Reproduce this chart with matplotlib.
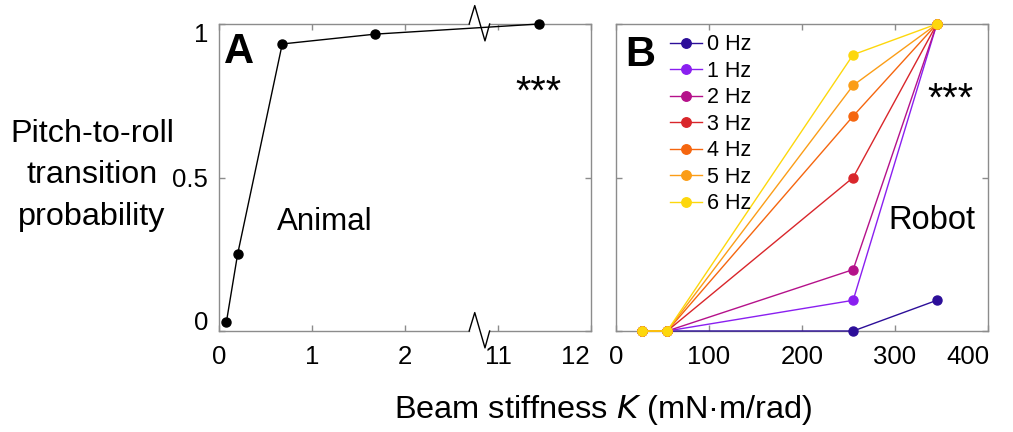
import numpy as np
import matplotlib
matplotlib.use("Agg")
import matplotlib.pyplot as plt
import matplotlib.transforms as mtransforms

plt.rcParams['font.family'] = ['Liberation Sans', 'DejaVu Sans']

# animal data (real stiffness values, axis is broken between 2 and 11)
k_animal = [0.08, 0.2, 0.68, 1.68, 11.44]
p_animal = [0.03, 0.25, 0.935, 0.967, 1.0]

# robot data
k_robot = [28, 55, 255, 345]
freqs = ['0 Hz', '1 Hz', '2 Hz', '3 Hz', '4 Hz', '5 Hz', '6 Hz']
p_robot = [
    [0, 0, 0.0, 0.1],
    [0, 0, 0.1, 1.0],
    [0, 0, 0.2, 1.0],
    [0, 0, 0.5, 1.0],
    [0, 0, 0.7, 1.0],
    [0, 0, 0.8, 1.0],
    [0, 0, 0.9, 1.0],
]
colors = ['#2c0e99', '#8a1ff0', '#b5118a', '#d9262b', '#f5660f', '#fb9d17', '#fdd70c']

xt_animal = [0, 1, 2, 11, 12]
xt_robot = [0, 100, 200, 300, 400]
yt = [0, 0.5, 1]


def squash(x):
    # map real K to broken axis position
    x = np.asarray(x, dtype=float)
    return np.where(x > 5, x - 8, x)


def nudge(lab, dx, dy):
    lab.set_transform(lab.get_transform() +
                      mtransforms.ScaledTranslation(dx/100, dy/100, fig.dpi_scale_trans))


fig = plt.figure(figsize=(10.13, 4.32), dpi=100)
axA = fig.add_axes([219/1013, 101/432, 372/1013, 307/432])
axB = fig.add_axes([616/1013, 101/432, 372/1013, 307/432])

spine_c = '#8c8c8c'
for ax in (axA, axB):
    for s in ax.spines.values():
        s.set_color(spine_c)
        s.set_linewidth(1.0)
    ax.tick_params(direction='in', length=4, width=1.0, color=spine_c,
                   top=True, right=True, labelsize=18.5, pad=10)
    ax.set_ylim(0, 1)
    ax.set_yticks(yt)

# panel A
axA.plot(squash(k_animal), p_animal, '-o', color='black', lw=1.0, ms=6.5,
         clip_on=False, zorder=5)
axA.set_xlim(0, 4)
axA.set_xticks(squash(xt_animal))
axA.set_xticklabels([str(v) for v in xt_animal])
axA.set_yticklabels(['0', '0.5', '1'])
axA.tick_params(axis='y', pad=8)

# broken axis: hide top/bottom spines and redraw with zigzag
axA.spines['top'].set_visible(False)
axA.spines['bottom'].set_visible(False)
trans = mtransforms.blended_transform_factory(axA.transData, axA.transAxes)
b0, b1 = 2.69, 2.91
for y0 in (0, 1):
    axA.plot([0, b0], [y0, y0], color=spine_c, lw=1.0, transform=trans, clip_on=False)
    axA.plot([b1, 4], [y0, y0], color=spine_c, lw=1.0, transform=trans, clip_on=False)
    axA.plot([b0, 2.75, 2.86, b1], [y0, y0 + 0.06, y0 - 0.055, y0],
             color='black', lw=1.0, transform=trans, clip_on=False, zorder=6)

# shift some labels like the original
labs = axA.get_yticklabels()
nudge(labs[0], 0, 10)
nudge(labs[2], 0, -9)
nudge(axA.get_xticklabels()[-1], -16, 0)

axA.text(0.013, 0.975, 'A', transform=axA.transAxes, fontsize=30,
         fontweight='bold', va='top', ha='left')
axA.text(0.922, 0.775, '***', transform=axA.transAxes, fontsize=28.5,
         ha='right', va='center')
axA.text(0.285, 0.355, 'Animal', transform=axA.transAxes, fontsize=22.5,
         ha='center', va='center')

# panel B
for f, p, c in zip(freqs, p_robot, colors):
    axB.plot(k_robot, p, '-o', color=c, lw=1.0, ms=6.5, label=f,
             clip_on=False, zorder=5)
axB.set_xlim(0, 400)
axB.set_xticks(xt_robot)
axB.set_yticklabels([])
nudge(axB.get_xticklabels()[-1], -20, 0)
axB.text(0.025, 0.963, 'B', transform=axB.transAxes, fontsize=30,
         fontweight='bold', va='top', ha='left')
axB.text(0.962, 0.753, '***', transform=axB.transAxes, fontsize=28.5,
         ha='right', va='center')
axB.text(0.85, 0.36, 'Robot', transform=axB.transAxes, fontsize=23.5,
         ha='center', va='center')
axB.legend(loc='upper left', bbox_to_anchor=(0.145, 0.966), frameon=False,
           fontsize=15.5, handlelength=1.5, handletextpad=0.2,
           labelspacing=0.255, borderpad=0, borderaxespad=0, markerscale=1.05)

fig.text(603/1013, 22/432, r'Beam stiffness $K$ (mN·m/rad)', fontsize=23.4,
         ha='center', va='center', math_fontfamily='custom')
fig.text(92/1013, 1 - 175/432, 'Pitch-to-roll\ntransition\nprobability',
         fontsize=23.3, ha='center', va='center', linespacing=1.5)

fig.savefig('out.png', dpi=100)
